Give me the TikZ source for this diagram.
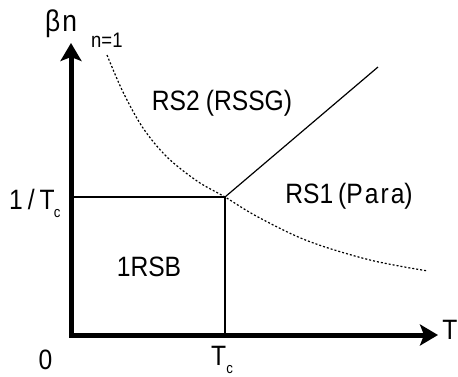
\documentclass[tikz,border=0pt]{standalone}
\usepackage{fontspec}
\setmainfont{Liberation Sans}[FakeStretch=0.88]
\usetikzlibrary{arrows.meta}
\begin{document}
\begin{tikzpicture}[x=1pt,y=-1pt,
  axis/.style={line width=5pt, line join=miter,
    {Stealth[length=18pt,width=21pt,inset=4pt]}-{Stealth[length=18pt,width=21pt,inset=4pt]}},
  phaseline/.style={line width=1.2pt},
  crossover/.style={line width=1.2pt, dash pattern=on 2pt off 2pt},
  lab/.style={inner sep=0pt, font=\fontsize{28}{30}\selectfont},
  small/.style={inner sep=0pt, font=\fontsize{21}{23}\selectfont},
]
\useasboundingbox (0,0) rectangle (458,376);
% key points
\coordinate (O) at (71,335);
\coordinate (Ytip) at (71,43);
\coordinate (Xtip) at (438,335);
\coordinate (C) at (225,197);
\coordinate (Ty) at (73,197);
\coordinate (Tx) at (225,333);
\coordinate (D) at (378,67);
% axes
\draw[axis] (Ytip) -- (O) -- (Xtip);
% phase boundaries
\draw[phaseline] (Ty) -- (C) -- (Tx);
\draw[phaseline] (C) -- (D);
% n=1 crossover curve
\draw[crossover] plot[smooth, tension=0.55] coordinates
  {(107,55) (123,92) (143,128) (167,157) (197,181) (C) (258,217) (308,241) (370,260) (428,271)};
% labels
\node[anchor=base west, inner sep=0pt, font=\fontsize{30}{32}\selectfont] (bn) at (45,31) {β\kern2pt n};
\node[small, anchor=base west] (n1) at (91,47) {n=1};
\node[lab] (rs2) at (222,103) {RS2\hspace{6pt}(RSSG)};
\node[lab] (rs1) at (349,196) {RS1\hspace{5pt}(P\kern2pt a\kern2pt r\kern2pt a)};
\node[lab] (rsb) at (149,267) {1RSB};
\node[lab, anchor=base west] (invTc) at (9,209) {1\kern5pt/\kern5pt T\kern-1pt\raisebox{-8pt}{\fontsize{15}{15}\selectfont c}};
\node[lab, anchor=base] (zero) at (45.5,369) {0};
\node[lab, anchor=base west] (Tc) at (211,365) {T\kern0pt\raisebox{-8pt}{\fontsize{15}{15}\selectfont c}};
\node[lab, anchor=base] (T) at (450,339) {T};
\end{tikzpicture}
\end{document}
